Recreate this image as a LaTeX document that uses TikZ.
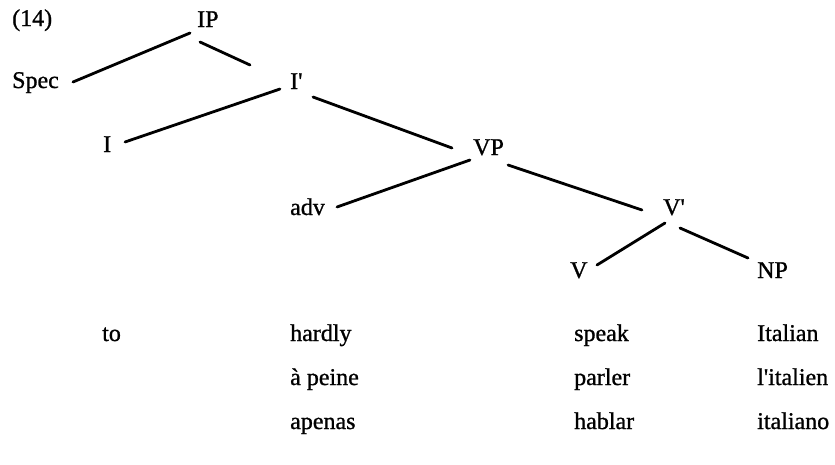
\documentclass[tikz,border=0pt]{standalone}
\usepackage{fontspec}
\setmainfont{Liberation Serif}
\newfontfamily\heavy{Liberation Serif}[FakeBold=1.0]
\usetikzlibrary{calc}
\newcommand{\ap}{\textquotesingle}
\begin{document}
\begin{tikzpicture}[x=1pt,y=-1pt,
  lab/.style={anchor=base west,inner sep=0pt,font=\heavy\fontsize{24}{28}\selectfont},
  edge/.style={line width=2.8pt,line cap=round}]
\useasboundingbox (0,0) rectangle (835,464);
% tree labels
\node[lab] (ex) at (12,26) {(14)};
\node[lab] (IP) at (197,27) {IP};
\node[lab] (Spec) at (12,88) {Spec};
\node[lab] (Ib) at (290,89) {I\ap};
\node[lab] (I) at (103,152) {I};
\node[lab] (VP) at (473,155) {VP};
\node[lab] (adv) at (290,215) {adv};
\node[lab] (Vb) at (663,215) {V\ap};
\node[lab] (V) at (570,278) {V};
\node[lab] (NP) at (757,278) {NP};
% glosses
\node[lab] (to) at (102,341) {to};
\node[lab] (hardly) at (290,341) {hardly};
\node[lab] (speak) at (574,341) {speak};
\node[lab] (Italian) at (757,341) {Italian};
\node[lab] (apeine) at (290,385) {à peine};
\node[lab] (parler) at (574,385) {parler};
\node[lab] (litalien) at (757,385) {l\ap italien};
\node[lab] (apenas) at (290,429) {apenas};
\node[lab] (hablar) at (574,429) {hablar};
\node[lab] (italiano) at (757,429) {italiano};
% branches
\draw[edge] ($(IP.base west)+(-7,6)$) -- ($(Spec.base west)+(61,-6)$);
\draw[edge] ($(IP.base west)+(3,15)$) -- ($(Ib.base west)+(-40,-24)$);
\draw[edge] ($(Ib.base west)+(-10,0)$) -- ($(I.base west)+(22,-10)$);
\draw[edge] ($(Ib.base west)+(23,8)$) -- ($(VP.base west)+(-21,-7)$);
\draw[edge] ($(VP.base west)+(-3,5)$) -- ($(adv.base west)+(47,-8)$);
\draw[edge] ($(VP.base west)+(35,10)$) -- ($(Vb.base west)+(-21,-5)$);
\draw[edge] ($(Vb.base west)+(2,8)$) -- ($(V.base west)+(27,-13)$);
\draw[edge] ($(Vb.base west)+(17,13)$) -- ($(NP.base west)+(-9,-20)$);
\end{tikzpicture}
\end{document}
